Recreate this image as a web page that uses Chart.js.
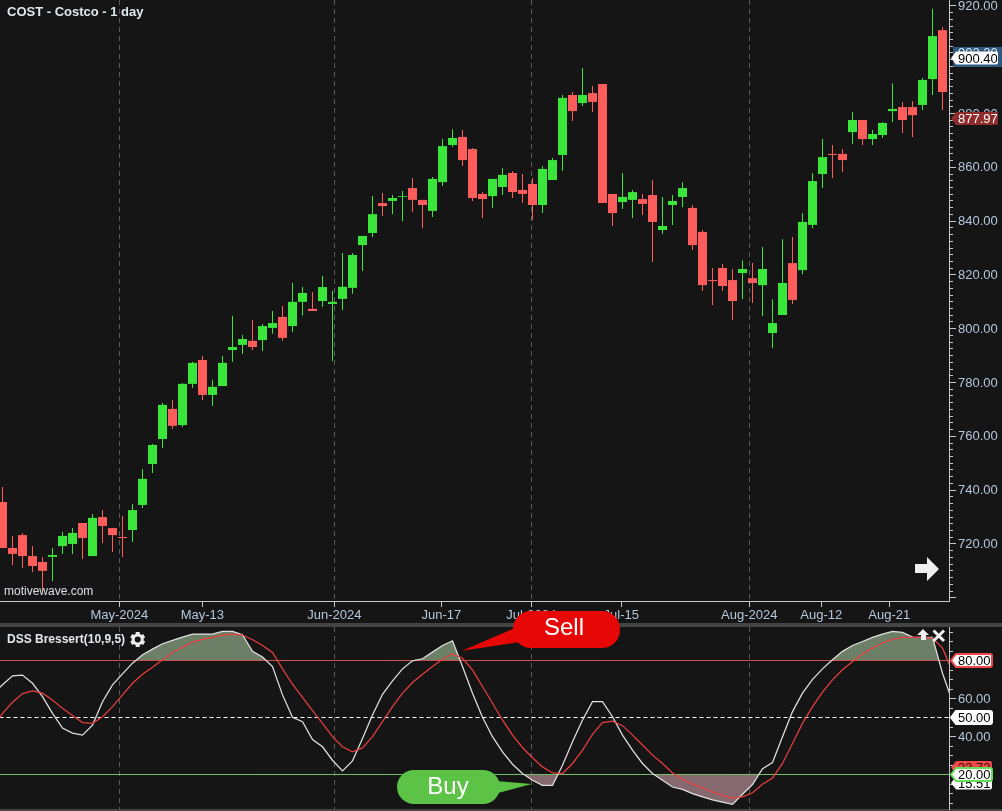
<!DOCTYPE html>
<html>
<head>
<meta charset="utf-8">
<title>COST - Costco - 1 day</title>
<script src="https://cdn.jsdelivr.net/npm/chart.js@4/dist/chart.umd.min.js"></script>
<style>
  html, body { margin: 0; padding: 0; background: #151515; overflow: hidden; }
  canvas { position: absolute; left: 0; top: 0; }
</style>
</head>
<body>
<canvas id="priceChart" width="1002" height="623"></canvas>
<canvas id="dssChart" width="1002" height="811"></canvas>
<script>
// daily candles, left to right
const candleOpen = [735.4,718.3,723.1,715.3,713.1,715.0,719.0,719.8,727.6,715.3,729.8,725.7,722.4,725.0,734.3,749.5,758.8,770.0,764.0,779.3,788.2,775.2,778.5,791.9,793.8,795.3,795.6,800.1,804.2,800.8,809.8,807.2,810.1,809.0,810.9,815.0,830.9,835.4,846.5,847.3,848.8,852.1,847.7,843.6,854.3,868.1,871.1,866.6,849.9,849.1,852.5,857.7,851.4,853.6,845.8,855.1,864.4,886.7,883.7,887.4,890.8,849.9,846.9,847.7,848.0,849.5,836.5,845.8,848.8,844.7,835.8,817.9,822.4,817.9,820.5,818.6,816.0,798.2,804.9,824.2,821.6,838.4,857.3,864.8,864.8,872.9,877.4,870.3,871.8,880.7,882.2,882.2,883.0,892.6,910.8];
const candleClose = [718.3,716.1,715.3,711.6,709.8,715.7,722.8,723.9,722.0,729.5,726.5,723.1,722.0,732.4,744.0,756.6,771.5,763.7,779.3,787.1,775.2,778.2,787.1,793.0,796.0,793.0,800.8,801.9,796.4,809.8,813.1,806.4,815.3,809.8,815.4,827.2,834.3,842.4,845.4,848.4,849.1,847.7,845.8,855.5,867.7,870.7,862.5,848.4,848.0,855.5,857.0,850.6,849.9,845.8,859.2,862.5,885.6,880.7,886.7,884.1,846.5,842.8,848.8,850.6,846.2,839.5,838.0,847.3,852.1,830.9,816.0,817.5,815.7,810.1,822.0,816.8,822.0,801.9,816.8,810.5,839.5,854.7,863.6,864.4,862.5,877.4,870.3,872.2,876.3,881.5,877.4,879.2,892.3,908.6,887.8];
const candleHigh = [741.0,722.8,723.9,719.0,715.0,718.3,724.3,725.7,727.6,730.9,732.4,725.7,730.2,734.7,747.7,757.0,772.2,773.3,779.6,787.5,789.7,780.8,789.7,804.6,797.5,803.1,801.6,806.4,808.3,816.8,815.3,813.5,819.4,813.9,828.0,828.0,834.3,849.1,850.3,849.5,851.0,855.8,847.7,856.2,870.3,874.0,873.7,867.0,850.6,855.5,859.5,858.4,857.3,855.8,860.3,863.3,886.7,887.8,896.7,890.0,890.8,849.9,857.7,851.4,849.9,855.1,848.8,849.5,854.3,845.8,836.5,822.4,823.9,822.0,825.3,824.2,830.2,810.8,833.1,833.9,842.8,857.7,870.3,868.1,866.6,880.4,877.4,873.7,876.6,891.1,884.1,884.5,893.0,918.7,912.0];
const candleLow = [718.3,712.0,710.9,709.4,701.9,706.0,716.1,716.1,714.2,715.3,720.2,716.8,715.0,720.5,733.2,746.2,755.5,762.5,763.3,777.8,773.3,771.1,778.5,787.5,790.4,791.9,791.5,797.9,795.3,798.6,804.6,806.4,807.9,787.8,806.8,812.8,821.3,833.9,841.7,842.4,839.8,843.2,837.2,841.3,852.9,867.4,860.3,847.3,841.0,844.7,849.5,848.4,846.5,840.2,842.8,855.1,858.4,877.0,882.6,880.4,846.5,838.0,844.3,841.0,842.1,824.6,835.0,838.4,845.0,829.1,813.8,808.6,813.8,803.0,810.8,809.4,804.5,792.6,804.9,809.0,820.1,837.2,852.1,855.8,858.1,868.5,868.1,868.1,870.7,876.6,872.6,871.1,881.1,886.7,881.1];

// DSS Bressert, one bar earlier than the candles, last point sits just past the axis
const dssWhite = [62.4,67.2,71.9,72.3,68.0,61.0,52.2,44.4,41.8,40.7,46.0,58.3,67.2,73.0,78.6,83.0,86.0,88.8,90.6,92.3,93.9,93.9,93.9,95.3,95.3,93.6,84.8,81.8,76.8,61.9,50.1,47.8,38.4,34.6,27.5,21.9,27.2,39.0,51.3,62.2,69.3,75.6,79.8,80.9,84.4,87.9,90.4,76.8,62.8,50.1,39.9,31.9,25.4,20.5,17.0,14.3,14.3,24.9,37.2,48.7,58.3,58.3,50.4,40.7,32.8,25.8,20.5,17.0,13.4,12.2,9.9,8.2,6.6,5.5,4.3,9.6,14.7,23.1,26.3,39.9,53.1,62.8,70.1,75.6,80.4,84.8,87.9,90.0,92.2,93.9,95.3,94.8,92.3,92.2,92.2,73.3,58.3];
const dssRed = [44.3,52.2,58.0,62.6,64.0,62.8,59.2,54.8,51.0,47.3,46.9,50.4,55.7,61.9,68.0,72.8,76.5,80.4,84.2,86.9,89.7,91.1,92.2,93.4,93.9,93.4,90.9,87.9,84.2,75.6,67.5,60.6,53.6,46.9,39.9,34.6,31.9,34.0,39.9,47.8,55.7,62.8,68.4,72.8,76.8,80.7,83.5,81.2,75.1,66.3,57.5,48.7,40.7,34.2,28.8,24.0,20.8,20.5,25.8,32.8,41.1,47.3,48.1,45.7,40.7,35.5,30.2,25.8,20.8,17.5,14.9,12.9,10.8,9.0,7.6,8.2,10.4,14.9,18.2,25.8,36.3,46.9,55.7,63.3,69.8,75.1,79.5,83.4,86.5,89.2,91.1,92.2,92.2,92.2,91.8,86.5,74.2];

// axes
const timeTickPos = [11.68,19.98,33.18,43.88,52.88,61.88,74.68,81.88,88.68];
const timeTickLabels = ['May-2024','May-13','Jun-2024','Jun-17','Jul-2024','Jul-15','Aug-2024','Aug-12','Aug-21'];
const priceTicks = [720,740,760,780,800,820,840,860,880,900,920];
const dssTicks = [40,60];
const levelHigh = 80, levelMid = 50, levelLow = 20;

const GREEN = '#39e639', RED = '#ff5c5c';
const BG_BAND = '#444444';
const AXIS_LINE = '#c8c8c8';
const TICK_TEXT = '#b4c8dc';
const GRID_LINE = '#5a5a5a';
const FONT = '"Liberation Sans", Arial, sans-serif';

Chart.defaults.font.family = FONT;
Chart.defaults.font.size = 13;

const isMonth = (i) => timeTickLabels[i] && timeTickLabels[i].includes('2024');

// chart.js reserves room for overhanging tick labels, the panels here run edge to edge
function noLabelPadding(scale) {
  scale.paddingLeft = 0;
  scale.paddingRight = 0;
  scale.paddingTop = 0;
  scale.paddingBottom = 0;
}

function timeAxis(showLabels) {
  return {
    type: 'linear',
    offset: false,
    min: -0.25,
    max: 94.65,
    afterBuildTicks: (scale) => { scale.ticks = timeTickPos.map(v => ({ value: v })); },
    afterFit: (scale) => {
      scale.height = showLabels ? 22 : 0;
      noLabelPadding(scale);
    },
    border: { display: showLabels, color: AXIS_LINE, dash: [5, 4] },
    grid: {
      offset: false,
      drawTicks: showLabels,
      tickLength: 6,
      tickColor: AXIS_LINE,
      tickBorderDash: [],
      color: (ctx) => isMonth(ctx.index) ? GRID_LINE : 'transparent',
    },
    ticks: {
      display: showLabels,
      autoSkip: false,
      maxRotation: 0,
      padding: 1,
      color: TICK_TEXT,
      callback: (v, i) => timeTickLabels[i],
    },
  };
}

function valueAxis(min, max, tickValues) {
  return {
    position: 'right',
    min: min,
    max: max,
    afterBuildTicks: (scale) => { scale.ticks = tickValues.map(v => ({ value: v })); },
    afterFit: (scale) => {
      scale.width = 53;
      noLabelPadding(scale);
    },
    border: { display: true, color: AXIS_LINE },
    grid: { drawOnChartArea: false, drawTicks: false },
    ticks: {
      padding: 9,
      labelOffset: 1,
      color: TICK_TEXT,
      callback: (v) => Number(v).toFixed(2),
    },
  };
}

// small marks down the value axis
function drawAxisMarks(chart, scale, from, to, step, majorEvery) {
  const ctx = chart.ctx;
  const x = chart.chartArea.right;
  ctx.save();
  ctx.strokeStyle = AXIS_LINE;
  ctx.lineWidth = 1;
  ctx.beginPath();
  for (let v = from; v <= to; v += step) {
    const y = Math.round(scale.getPixelForValue(v)) + 0.5;
    ctx.moveTo(x, y);
    ctx.lineTo(x + (v % majorEvery === 0 ? 7 : 4), y);
  }
  ctx.stroke();
  ctx.restore();
}

function drawTag(ctx, y, right, fill, stroke, text, textColor) {
  const left = 951, top = y - 6.5, bottom = y + 6.5;
  ctx.save();
  ctx.beginPath();
  ctx.moveTo(left, y);
  ctx.lineTo(left + 5, top);
  ctx.lineTo(right - 2, top);
  ctx.quadraticCurveTo(right, top, right, top + 2);
  ctx.lineTo(right, bottom - 2);
  ctx.quadraticCurveTo(right, bottom, right - 2, bottom);
  ctx.lineTo(left + 5, bottom);
  ctx.closePath();
  ctx.fillStyle = fill;
  ctx.fill();
  if (stroke) {
    ctx.strokeStyle = stroke;
    ctx.lineWidth = 2;
    ctx.stroke();
  }
  ctx.fillStyle = textColor;
  ctx.font = '13px ' + FONT;
  ctx.textAlign = 'left';
  ctx.textBaseline = 'middle';
  ctx.fillText(text, 958, y + 1);
  ctx.restore();
}

const pricePlugin = {
  id: 'priceOverlay',
  afterDraw(chart) {
    const ctx = chart.ctx;
    const y = chart.scales.y;
    drawAxisMarks(chart, y, 700, 920, 2.5, 20);

    ctx.save();
    ctx.textBaseline = 'middle';
    ctx.fillStyle = '#e2e8ea';
    ctx.font = 'bold 13px ' + FONT;
    ctx.fillText('COST - Costco - 1 day', 7, 12);
    ctx.fillStyle = '#d8e0e4';
    ctx.font = '12px ' + FONT;
    ctx.fillText('motivewave.com', 4, 592);

    // scroll arrow
    ctx.fillStyle = '#f0f0f0';
    ctx.beginPath();
    ctx.moveTo(915, 564);
    ctx.lineTo(927, 564);
    ctx.lineTo(927, 557);
    ctx.lineTo(939, 569);
    ctx.lineTo(927, 581);
    ctx.lineTo(927, 573);
    ctx.lineTo(915, 573);
    ctx.closePath();
    ctx.fill();

    // value tags, the blue one is mostly hidden behind the white one
    const blueY = y.getPixelForValue(902.2);
    ctx.fillStyle = '#2c5a80';
    ctx.fillRect(953, 47, 49, 20);
    ctx.fillStyle = '#d8e4ee';
    ctx.font = '13px ' + FONT;
    ctx.fillText('902.20', 958, blueY);
    ctx.restore();
    drawTag(ctx, y.getPixelForValue(900.4), 998, '#ffffff', null, '900.40', '#000000');
    drawTag(ctx, y.getPixelForValue(877.97), 998, '#8f2b2b', null, '877.97', '#ffffff');
  },
};

function drawGear(ctx, cx, cy) {
  ctx.save();
  ctx.translate(cx, cy);
  ctx.fillStyle = '#ececec';
  for (let i = 0; i < 3; i++) {
    ctx.rotate(Math.PI / 3);
    ctx.fillRect(-2, -7.5, 4, 15);
  }
  ctx.beginPath();
  ctx.arc(0, 0, 6, 0, Math.PI * 2);
  ctx.fill();
  ctx.fillStyle = '#151515';
  ctx.beginPath();
  ctx.arc(0, 0, 3, 0, Math.PI * 2);
  ctx.fill();
  ctx.restore();
}

function drawBubble(ctx, box, radius, tail, color, text, textX, textY) {
  ctx.save();
  ctx.fillStyle = color;
  ctx.beginPath();
  ctx.roundRect(box[0], box[1], box[2] - box[0], box[3] - box[1], radius);
  ctx.fill();
  ctx.beginPath();
  ctx.moveTo(tail[0][0], tail[0][1]);
  ctx.lineTo(tail[1][0], tail[1][1]);
  ctx.lineTo(tail[2][0], tail[2][1]);
  ctx.closePath();
  ctx.fill();
  ctx.fillStyle = '#ffffff';
  ctx.font = '24px ' + FONT;
  ctx.textAlign = 'center';
  ctx.textBaseline = 'middle';
  ctx.fillText(text, textX, textY);
  ctx.restore();
}

const dssPlugin = {
  id: 'dssOverlay',
  beforeDraw(chart) {
    const ctx = chart.ctx;
    ctx.fillStyle = BG_BAND;
    ctx.fillRect(0, 623, 1002, 4);
    ctx.fillRect(0, 809, 1002, 2);
  },
  afterDraw(chart) {
    const ctx = chart.ctx;
    const y = chart.scales.y;
    drawAxisMarks(chart, y, 5, 95, 5, 20);

    ctx.save();
    ctx.fillStyle = '#e2e8ea';
    ctx.font = 'bold 12px ' + FONT;
    ctx.textBaseline = 'middle';
    ctx.fillText('DSS Bressert(10,9,5)', 7, 639.5);
    ctx.restore();
    drawGear(ctx, 137.7, 639.5);

    // up arrow and close cross
    ctx.save();
    ctx.fillStyle = '#f0f0f0';
    ctx.beginPath();
    ctx.moveTo(923, 629);
    ctx.lineTo(929, 635);
    ctx.lineTo(926, 635);
    ctx.lineTo(926, 640);
    ctx.lineTo(921, 640);
    ctx.lineTo(921, 635);
    ctx.lineTo(917, 635);
    ctx.closePath();
    ctx.fill();
    ctx.strokeStyle = '#f0f0f0';
    ctx.lineWidth = 3;
    ctx.beginPath();
    ctx.moveTo(933.5, 630.5);
    ctx.lineTo(944, 641);
    ctx.moveTo(944, 630.5);
    ctx.lineTo(933.5, 641);
    ctx.stroke();
    ctx.restore();

    drawTag(ctx, y.getPixelForValue(levelHigh), 992, '#ffffff', '#f04848', '80.00', '#000000');
    drawTag(ctx, y.getPixelForValue(levelMid), 992, '#ffffff', '#ffffff', '50.00', '#000000');
    drawTag(ctx, y.getPixelForValue(23.72), 992, '#f04848', null, '23.72', '#301010');
    drawTag(ctx, y.getPixelForValue(15.51), 992, '#ffffff', null, '15.51', '#000000');
    drawTag(ctx, y.getPixelForValue(levelLow), 992, '#ffffff', '#62e05a', '20.00', '#000000');

    drawBubble(ctx, [513, 611, 620, 648], 18, [[462, 650.7], [515, 628], [520, 642]], '#e80707', 'Sell', 564, 628.5);
    drawBubble(ctx, [397, 770, 500, 804], 17, [[531.7, 784], [496, 781], [498, 793]], '#5cc346', 'Buy', 448, 787);
  },
};

const candleColor = (ctx) => candleClose[ctx.dataIndex] >= candleOpen[ctx.dataIndex] ? GREEN : RED;

new Chart(document.getElementById('priceChart'), {
  type: 'bar',
  data: {
    datasets: [
      {
        label: 'Body',
        data: candleOpen.map((o, i) => ({ x: i, y: [o, candleClose[i]] })),
        backgroundColor: candleColor,
        barThickness: 9,
        grouped: false,
        borderSkipped: false,
        borderWidth: 0,
        inflateAmount: 0,
      },
      {
        label: 'Wick',
        data: candleLow.map((l, i) => ({ x: i, y: [l, candleHigh[i]] })),
        backgroundColor: candleColor,
        barThickness: 1,
        grouped: false,
        borderSkipped: false,
        borderWidth: 0,
        inflateAmount: 0,
      },
    ],
  },
  options: {
    responsive: false,
    animation: false,
    layout: { padding: 0 },
    plugins: { legend: { display: false }, tooltip: { enabled: false } },
    scales: {
      x: timeAxis(true),
      y: valueAxis(698.6, 922, priceTicks),
    },
  },
  plugins: [pricePlugin],
});

const lineIndex = (values) => values.map((v, i) => ({ x: i - 1, y: v }));
const levelLine = (value) => [{ x: -1, y: value }, { x: 96, y: value }];
const lineBase = { pointRadius: 0, borderWidth: 1, tension: 0, fill: false };

new Chart(document.getElementById('dssChart'), {
  type: 'line',
  data: {
    datasets: [
      { ...lineBase, label: 'Signal', data: lineIndex(dssRed), borderColor: '#e83f3f', borderWidth: 1.25 },
      {
        ...lineBase,
        label: 'DSS',
        data: lineIndex(dssWhite),
        borderColor: '#e0e0e0',
        borderWidth: 1.25,
        fill: { target: { value: levelHigh }, above: '#6c8068', below: 'transparent' },
      },
      {
        ...lineBase,
        label: 'DSS low',
        data: lineIndex(dssWhite),
        borderWidth: 0,
        borderColor: 'transparent',
        fill: { target: { value: levelLow }, above: 'transparent', below: '#85696e' },
      },
      { ...lineBase, label: 'High', data: levelLine(levelHigh), borderColor: '#ee4444' },
      { ...lineBase, label: 'Mid', data: levelLine(levelMid), borderColor: '#ffffff', borderDash: [4, 3] },
      { ...lineBase, label: 'Low', data: levelLine(levelLow), borderColor: '#6ee060' },
    ],
  },
  options: {
    responsive: false,
    animation: false,
    layout: { padding: { top: 627, bottom: 2, left: 0, right: 0 } },
    plugins: { legend: { display: false }, tooltip: { enabled: false } },
    scales: {
      x: timeAxis(false),
      y: valueAxis(1.84, 97.63, dssTicks),
    },
  },
  plugins: [dssPlugin],
});
</script>
</body>
</html>
